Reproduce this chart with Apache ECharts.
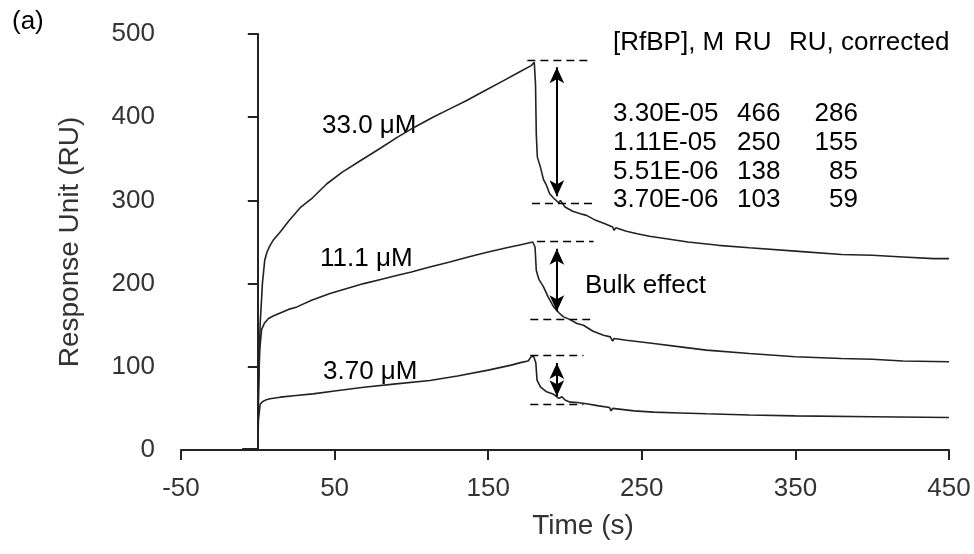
<!DOCTYPE html>
<html><head><meta charset="utf-8">
<script src="https://cdn.jsdelivr.net/npm/echarts@6/dist/echarts.min.js"></script>
<style>html,body{margin:0;padding:0;background:#fff}#c{width:974px;height:554px}</style>
</head><body><div id="c"></div>
<script>
// ---- data ----
const time33 = [-10, 0, 0.4, 1.5, 3, 4.5, 6, 8, 10, 15, 20, 28, 35, 45, 55, 67, 80, 91, 102, 114, 125, 136, 148, 160, 170, 178, 180, 180.8, 181.3, 182, 184, 186, 188, 190, 193, 196, 197, 200, 205, 210, 214, 220, 226, 231, 232, 233, 240, 247, 255, 266, 280, 300, 320, 350, 380, 400, 420, 440, 450];
const ru33   = [1, 1, 70, 150, 200, 228, 238, 246, 252, 263, 275, 292, 302, 320, 334, 348, 363, 376, 388, 400, 410, 420, 432, 444, 454, 462, 466, 440, 380, 352, 340, 325, 318, 308, 302, 297, 300, 292, 287, 284, 282, 276, 272, 268, 264, 267, 263, 260, 257, 254, 250, 246, 243, 239, 235, 234, 232, 230, 230];

const time11 = [-10, 0, 0.4, 1.2, 2.5, 4.5, 7, 10, 15, 20, 25.5, 35, 47, 58, 69, 80, 91, 100, 112, 125, 137, 150, 162, 172, 179, 180, 180.5, 181.3, 183, 186, 189, 192.6, 196, 199, 203, 207.8, 212, 218, 225, 229.5, 231, 232, 240, 257.7, 275, 292, 320, 350, 380, 400, 420, 450];
const ru11   = [1, 1, 60, 120, 145, 153, 158, 161, 165, 169, 172, 180, 188, 194, 200, 205, 210, 214, 220, 226, 232, 238, 243, 247, 250, 251, 244, 216, 205, 196, 184, 172, 165, 160, 157, 152, 150, 143, 138, 136, 131, 134, 132, 128, 124, 120, 116, 112, 110, 109, 107, 106];

const time37 = [-10, 0, 0.4, 1.5, 3, 5, 8, 14.6, 25, 36, 50, 69, 90, 112, 130, 150, 165, 171, 176, 178, 179.5, 180.5, 181, 181.8, 184, 188, 192.6, 196, 198, 200, 203.4, 208, 214, 222, 229, 230, 231, 245, 257.7, 275, 292, 320, 350, 400, 450];
const ru37   = [1, 1, 35, 55, 58, 60, 61.5, 63.5, 65.5, 67.5, 71, 75.5, 79.5, 83.5, 89, 96, 102, 105, 107, 112, 113, 112, 105, 84, 76, 70, 67, 62, 64, 60, 57.5, 57, 55.5, 53, 51, 47, 50, 47, 45.5, 44.5, 43.5, 42, 41, 40, 39];

const curveLabels = ['33.0 \u03bcM', '11.1 \u03bcM', '3.70 \u03bcM'];

// bulk-effect markers (data units)
const bulkTop     = [469, 251, 113.6];
const bulkBottom  = [296, 157.7, 55.5];
const topStart    = [175.5, 181.8, 177.4];
const topEnd      = [215.3, 218.6, 212];
const bottomStart = [178.5, 177.4, 177.4];
const bottomEnd   = [219.6, 216.4, 212];
const arrowTime   = 194.7;

// table
const tableHeader = ['[RfBP], M', 'RU', 'RU, corrected'];
const concValues  = ['3.30E-05', '1.11E-05', '5.51E-06', '3.70E-06'];
const ruValues    = ['466', '250', '138', '103'];
const ruCorrected = ['286', '155', '85', '59'];

const xTicks = { min: -50, max: 450, interval: 100 };
const yTicks = { min: 0, max: 500, interval: 100 };

// ---- chart ----
const FONT = '"Liberation Sans", Arial, Helvetica, sans-serif';
const chart = echarts.init(document.getElementById('c'), null, { renderer: 'canvas' });
function pairs(t, v) { return t.map((x, i) => [x, v[i]]); }
const arrowInset = 9;
function bulkMarks(i) {
  const dash = { type: [8, 5], width: 1.3, color: '#000' };
  return {
    silent: true, animation: false, label: { show: false },
    symbol: 'none', symbolSize: [11, 16],
    emphasis: { disabled: true },
    data: [
      [{ coord: [topStart[i], bulkTop[i]], symbol: 'none', lineStyle: dash }, { coord: [topEnd[i], bulkTop[i]], symbol: 'none' }],
      [{ coord: [bottomStart[i], bulkBottom[i]], symbol: 'none', lineStyle: dash }, { coord: [bottomEnd[i], bulkBottom[i]], symbol: 'none' }],
      [{ coord: [arrowTime, bulkTop[i] - arrowInset], symbol: 'arrow', symbolSize: [11, 16], lineStyle: { type: 'solid', width: 2, color: '#000' } },
       { coord: [arrowTime, bulkBottom[i] + arrowInset], symbol: 'arrow', symbolSize: [11, 16] }]
    ]
  };
}
const lineStyle = { width: 1.6, color: '#222' };
function mkSeries(name, t, v, i) {
  return {
    name, type: 'line', data: pairs(t, v), showSymbol: false, symbol: 'none',
    lineStyle, animation: false, silent: true, clip: false,
    markLine: bulkMarks(i)
  };
}

function txt(text, x, y, align, size) {
  return { type: 'text', x, y, silent: true,
    style: { text, fontSize: size || 26, fontFamily: FONT, fill: '#000', align: align || 'left', verticalAlign: 'middle' } };
}
const graphics = [
  txt('(a)', 12, 22),
  txt(curveLabels[0], 322, 126),
  txt(curveLabels[1], 320, 259),
  txt(curveLabels[2], 323, 372),
  txt('Bulk effect', 585, 286),
  txt(tableHeader[0], 613, 43),
  txt(tableHeader[1], 734, 43),
  txt(tableHeader[2], 789, 43)
];
const rowY = [114, 143, 172, 200];
concValues.forEach((c, i) => {
  graphics.push(txt(c, 613, rowY[i]));
  graphics.push(txt(ruValues[i], 737, rowY[i]));
  graphics.push(txt(ruCorrected[i], 858, rowY[i], 'right'));
});

const axisCommon = {
  axisLine: { show: true, lineStyle: { color: '#222', width: 2 } },
  axisTick: { show: true, length: 10, lineStyle: { color: '#222', width: 2 } },
  splitLine: { show: false },
  axisLabel: { margin: 26, fontSize: 26, color: '#333', fontFamily: FONT }
};

chart.setOption({
  backgroundColor: '#fff',
  animation: false,
  grid: { left: 181, right: 25, top: 34, bottom: 104 },
  xAxis: Object.assign({
    type: 'value', min: xTicks.min, max: xTicks.max, interval: xTicks.interval,
    name: 'Time (s)', nameLocation: 'middle', nameGap: 62,
    nameTextStyle: { fontSize: 28, color: '#333', fontFamily: FONT, padding: [0, 0, 0, 36] }
  }, axisCommon),
  yAxis: Object.assign({
    type: 'value', min: yTicks.min, max: yTicks.max, interval: yTicks.interval,
    name: 'Response Unit (RU)', nameLocation: 'middle', nameGap: 97,
    nameTextStyle: { fontSize: 28, color: '#333', fontFamily: FONT }
  }, axisCommon),
  series: [
    mkSeries('33.0', time33, ru33, 0),
    mkSeries('11.1', time11, ru11, 1),
    mkSeries('3.70', time37, ru37, 2)
  ],
  graphic: graphics
});
</script></body></html>
